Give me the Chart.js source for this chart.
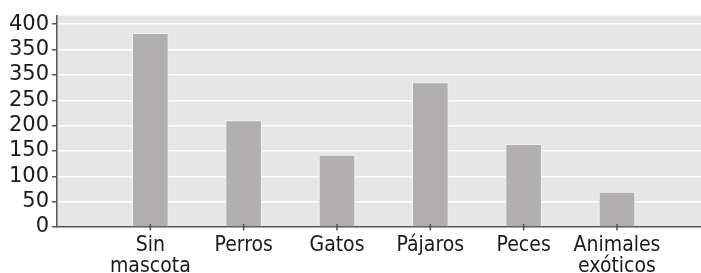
<!DOCTYPE html>
<html>
<head>
<meta charset="utf-8">
<script src="https://cdn.jsdelivr.net/npm/chart.js@4"></script>
<style>
  body { margin: 0; background: #fff; }
</style>
</head>
<body>
<canvas id="mascotas" width="701" height="273"></canvas>
<script>
// Datos del gráfico
const categorias = [['Sin', 'mascota'], 'Perros', 'Gatos', 'Pájaros', 'Peces', ['Animales', 'exóticos']];
const personas = [382, 210, 142, 285, 163, 69];
const yTickValues = [0, 50, 100, 150, 200, 250, 300, 350, 400];
const yTickLabels = ['0', '50', '100', '150', '200', '250', '350', '350', '400']; // tal cual aparece en el original

// Fondo gris del área de trazado
const fondoPlugin = {
    id: 'fondo',
    beforeDraw(chart) {
        const { ctx, chartArea } = chart;
        ctx.save();
        ctx.fillStyle = '#e6e6e4';
        ctx.fillRect(chartArea.left, chartArea.top, chart.width - chartArea.left, chartArea.bottom - chartArea.top);
        ctx.restore();
    },
    // marcas del eje x que cruzan la línea base, como en el original
    afterDraw(chart) {
        const { ctx } = chart;
        const x = chart.scales.x;
        const base = chart.scales.y.getPixelForValue(0);
        ctx.save();
        ctx.strokeStyle = '#555';
        ctx.lineWidth = 1.5;
        x.ticks.forEach((t, i) => {
            const px = x.getPixelForTick(i);
            ctx.beginPath();
            ctx.moveTo(px, base - 3);
            ctx.lineTo(px, base + 3.5);
            ctx.stroke();
        });
        ctx.restore();
    }
};

new Chart(document.getElementById('mascotas'), {
    type: 'bar',
    data: {
        datasets: [{
            data: personas.map((v, i) => ({ x: i + 1, y: v })),
            backgroundColor: '#b1b0ac',
            borderColor: '#f2f2f0',
            borderWidth: 1,
            borderSkipped: 'bottom',
            barThickness: 36
        }]
    },
    options: {
        responsive: false,
        animation: false,
        layout: { padding: { top: 14, right: 0, left: 0, bottom: 0 } },
        plugins: { legend: { display: false }, tooltip: { enabled: false } },
        scales: {
            x: {
                type: 'linear',
                min: 0,
                max: 6.9,
                offset: false,
                afterBuildTicks: s => { s.ticks = categorias.map((c, i) => ({ value: i + 1 })); },
                afterFit: s => { s.height = 46; },
                grid: { offset: false, drawOnChartArea: false, drawTicks: true, tickLength: 4, color: 'rgba(0,0,0,0)' },
                border: { display: true, color: '#555', width: 1.5 },
                ticks: {
                    autoSkip: false,
                    maxRotation: 0,
                    padding: 4,
                    color: '#1a1a1a',
                    font: { family: '"DejaVu Sans Condensed", "DejaVu Sans"', size: 21, lineHeight: 1.0 },
                    callback: v => categorias[v - 1]
                }
            },
            y: {
                min: 0,
                max: 417,
                afterBuildTicks: s => { s.ticks = yTickValues.map(v => ({ value: v })); },
                afterFit: s => { s.width = 57; },
                grid: {
                    color: c => (c.tick && c.tick.value === 0) ? 'rgba(0,0,0,0)' : '#ffffff',
                    tickColor: '#555',
                    tickLength: 5,
                    lineWidth: 1.5
                },
                border: { display: true, color: '#555', width: 1.5 },
                ticks: {
                    autoSkip: false,
                    padding: 3,
                    color: '#1a1a1a',
                    font: { family: '"DejaVu Sans"', size: 21 },
                    callback: (v, i) => yTickLabels[i]
                }
            }
        }
    },
    plugins: [fondoPlugin]
});
</script>
</body>
</html>
